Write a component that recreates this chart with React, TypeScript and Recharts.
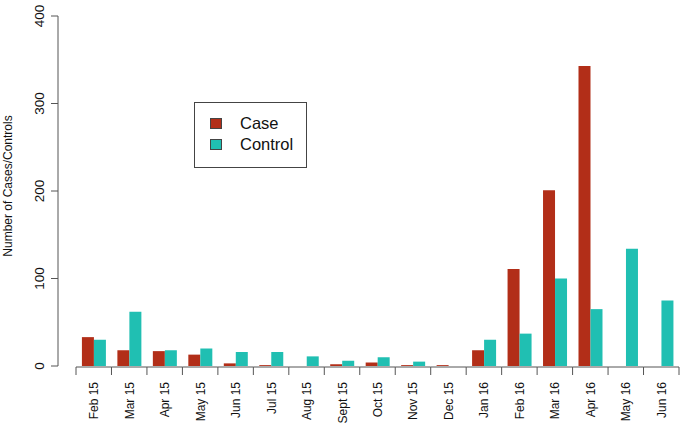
// Monthly counts of cases vs controls, R barplot style
import { BarChart, Bar, XAxis, YAxis } from "recharts";

const months = [
  "Feb 15", "Mar 15", "Apr 15", "May 15", "Jun 15", "Jul 15", "Aug 15", "Sept 15",
  "Oct 15", "Nov 15", "Dec 15", "Jan 16", "Feb 16", "Mar 16", "Apr 16", "May 16", "Jun 16",
];
const caseCounts = [33, 18, 17, 13, 3, 1, 0, 2, 4, 1, 1, 18, 111, 201, 343, 0, 0];
const controlCounts = [30, 62, 18, 20, 16, 16, 11, 6, 10, 5, 0, 30, 37, 100, 65, 134, 75];
const yTicks = [0, 100, 200, 300, 400];
const seriesNames = ["Case", "Control"];

const CASE_COLOUR = "#B22E18";
const CONTROL_COLOUR = "#20BFB2";
const AXIS_COLOUR = "#555";
const FONT = "'Liberation Sans', Arial, sans-serif";

const W = 683;
const H = 427;
const PLOT_LEFT = 76;
const PLOT_RIGHT = 679;
const BAND = (PLOT_RIGHT - PLOT_LEFT) / months.length;

const data = months.map((m, i) => ({
  month: m,
  Case: caseCounts[i],
  Control: controlCounts[i],
}));

function MonthTick(props: any) {
  const { x, y, payload, index } = props;
  const axisY = y + 1;
  const left = x - BAND / 2;
  const right = x + BAND / 2;
  return (
    <g>
      <line x1={left} x2={right} y1={axisY} y2={axisY} stroke={AXIS_COLOUR} />
      <line x1={left} x2={left} y1={axisY} y2={axisY + 8} stroke={AXIS_COLOUR} />
      {index === months.length - 1 && (
        <line x1={right} x2={right} y1={axisY} y2={axisY + 8} stroke={AXIS_COLOUR} />
      )}
      <text
        x={x + 4.5}
        y={y + 16}
        transform={`rotate(-90, ${x + 4.5}, ${y + 16})`}
        textAnchor="end"
        fontSize={12}
        fontFamily={FONT}
        fill="#111"
      >
        {payload.value}
      </text>
    </g>
  );
}

function CountTick(props: any) {
  const { y, payload } = props;
  const bx = 44;
  return (
    <text
      x={bx}
      y={y}
      transform={`rotate(-90, ${bx}, ${y})`}
      textAnchor="middle"
      fontSize={13.5}
      fontFamily={FONT}
      fill="#111"
    >
      {payload.value}
    </text>
  );
}

function LegendBox() {
  const colours = [CASE_COLOUR, CONTROL_COLOUR];
  return (
    <div
      style={{
        position: "absolute",
        left: 194,
        top: 102,
        border: "1px solid #444",
        width: 113,
        height: 66,
        boxSizing: "border-box",
        padding: "10px 0 0 15px",
        fontFamily: FONT,
        background: "#fff",
      }}
    >
      {seriesNames.map((name, i) => (
        <div key={name} style={{ display: "flex", alignItems: "center", height: 21 }}>
          <span
            style={{
              display: "inline-block",
              width: 12,
              height: 11,
              background: colours[i],
              border: "1px solid #444",
              boxSizing: "border-box",
              marginRight: 18,
            }}
          />
          <span style={{ fontSize: 16.5, color: "#111" }}>{name}</span>
        </div>
      ))}
    </div>
  );
}

export default function App() {
  return (
    <div style={{ position: "relative", width: W, height: H, background: "#fff" }}>
      <style>{`body{margin:0;background:#fff}`}</style>
      <BarChart
        width={W}
        height={H}
        data={data}
        margin={{ top: 16, right: W - PLOT_RIGHT, bottom: 0, left: 0 }}
        barCategoryGap="16.67%"
        barGap={0}
      >
        <XAxis
          dataKey="month"
          interval={0}
          height={H - 366}
          axisLine={false}
          tickLine={false}
          tickSize={0}
          tickMargin={0}
          padding={{ left: PLOT_LEFT - 58, right: 0 }}
          tick={<MonthTick />}
        />
        <YAxis
          width={58}
          domain={[0, 400]}
          ticks={yTicks}
          axisLine={{ stroke: AXIS_COLOUR }}
          tickLine={{ stroke: AXIS_COLOUR }}
          tickSize={7}
          tick={<CountTick />}
          label={{
            value: "Number of Cases/Controls",
            content: () => (
              <text
                x={12}
                y={186}
                transform="rotate(-90, 12, 186)"
                textAnchor="middle"
                fontSize={12}
                fontFamily={FONT}
                fill="#111"
              >
                Number of Cases/Controls
              </text>
            ),
          }}
        />
        <Bar dataKey="Case" fill={CASE_COLOUR} isAnimationActive={false} />
        <Bar dataKey="Control" fill={CONTROL_COLOUR} isAnimationActive={false} />
      </BarChart>
      <LegendBox />
    </div>
  );
}
